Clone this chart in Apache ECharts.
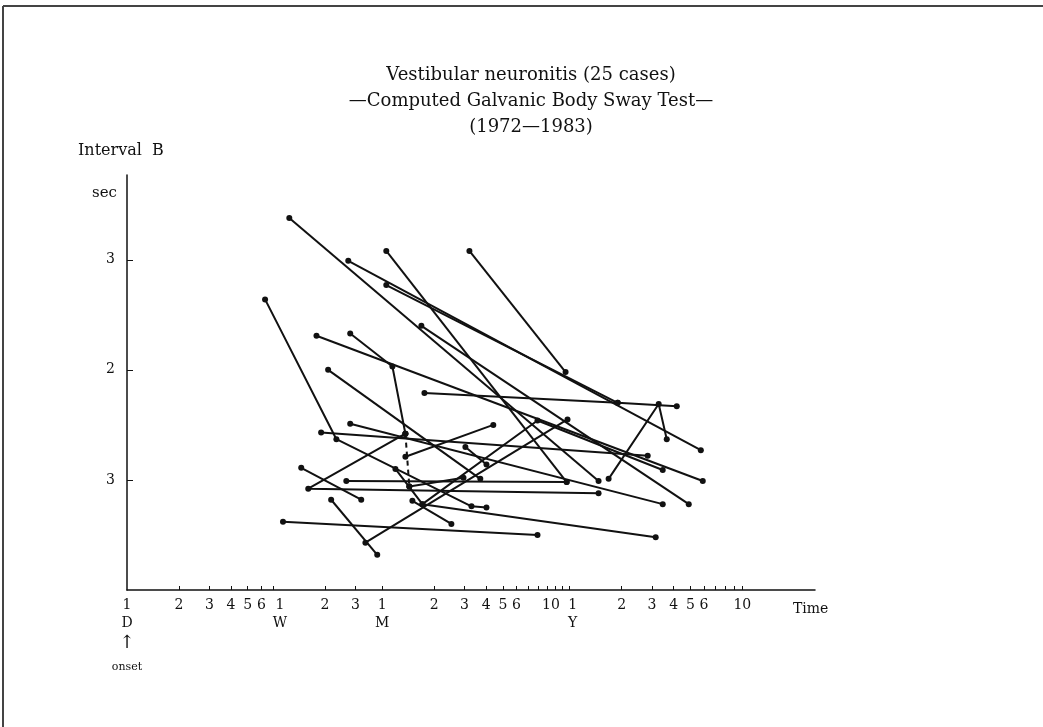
<!DOCTYPE html>
<html><head><meta charset="utf-8">
<script src="https://cdn.jsdelivr.net/npm/echarts@6/dist/echarts.min.js"></script>
<style>html,body{margin:0;padding:0;background:#fff}#c{width:1043px;height:727px}</style>
</head><body><div id="c"></div>
<script>
// ---- text ----
const titleLines = ['Vestibular neuronitis (25 cases)', '\u2014Computed Galvanic Body Sway Test\u2014', '(1972\u20141983)'];
const yName = 'Interval  B';
const yUnit = 'sec';
const xName = 'Time';

// ---- x ticks (days since onset, log scale) ----
const tickDays   = [1, 2, 3, 4, 5, 6, 7, 14, 21, 30, 60, 90, 120, 150, 180, 300, 365, 730, 1095, 1460, 1825, 2190, 3650];
const tickLabels = ['1|D', '2', '3', '4', '5', '6', '1|W', '2', '3', '1|M', '2', '3', '4', '5', '6', '10', '1|Y', '2', '3', '4', '5', '6', '10'];
const minorTickDays = [210, 240, 270, 330, 2555, 2920, 3285];

// ---- y ticks ----
const yTickValues = [1, 2, 3];
const yTickLabels = ['3', '2', '3'];

// ---- cases: [days, sec] ----
const case01 = [[8.7, 3.38], [537, 0.99]];
const case02 = [[31.7, 3.08], [351, 0.98]];
const case03 = [[96, 3.08], [346, 1.98]];
const case04 = [[19.1, 2.99], [2099, 1.27]];
const case05 = [[31.7, 2.77], [693, 1.70]];
const case06 = [[6.3, 2.64], [16.3, 1.37], [98.7, 0.76], [120.5, 0.75]];
const case07 = [[12.5, 2.31], [2154, 0.99]];
const case08 = [[19.6, 2.33], [34.4, 2.03], [40.9, 1.42]];
const case08b = [[43.1, 0.94], [88.7, 1.02]];
const case09 = [[50.6, 2.40], [1787, 0.78]];
const case10 = [[14.6, 2.00], [111, 1.01]];
const case11 = [[52.7, 1.79], [693, 1.70], [1523, 1.67]];
const case12 = [[19.6, 1.51], [1263, 0.78]];
const case13 = [[13.3, 1.43], [1034, 1.22]];
const case14 = [[40.9, 1.42], [11.2, 0.92], [537, 0.88]];
const case15 = [[40.9, 1.21], [132, 1.50]];
const case16 = [[91, 1.30], [120.5, 1.14]];
const case17 = [[35.8, 1.10], [51.3, 0.78], [1150, 0.48]];
const case18 = [[44.9, 0.81], [75.5, 0.60]];
const case19 = [[10.2, 1.11], [22.7, 0.82]];
const case20 = [[18.6, 0.99], [351, 0.98]];
const case21 = [[15.2, 0.82], [28.1, 0.32]];
const case22 = [[8.0, 0.62], [238, 0.50]];
const case23 = [[24.0, 0.43], [355, 1.55]];
const case24 = [[614, 1.01], [1197, 1.69], [1333, 1.37]];
const case25 = [[51.3, 0.78], [238, 1.54], [1263, 1.09]];
const dashed01 = [[40.9, 1.42], [43.1, 0.94]];

const solidCases = [case01, case02, case03, case04, case05, case06, case07, case08, case08b, case09, case10,
  case11, case12, case13, case14, case15, case16, case17, case18, case19, case20, case21, case22, case23, case24, case25];
const dashedCases = [dashed01];

const INK = '#111';
const serif = 'DejaVu Serif';

// small label nudges (rich style names) for crowded positions
const labelStyleFor = { 7: 'w', 300: 'l', 365: 'r' };

function labelFor(v) {
  for (let i = 0; i < tickDays.length; i++) {
    if (Math.abs(v - tickDays[i]) < 1e-6 * tickDays[i]) {
      const parts = tickLabels[i].split('|');
      if (i === 0) return '{n|' + parts[0] + '}\n{n|' + parts[1] + '}\n{arr|\u2191}\n{on|onset}';
      const st = labelStyleFor[tickDays[i]] || 'n';
      return parts.map(p => '{' + st + '|' + p + '}').join('\n');
    }
  }
  return '';
}

const lbl = { fontFamily: serif, fontSize: 14, color: INK, lineHeight: 18, align: 'center' };

const series = [];
solidCases.forEach(c => series.push({
  type: 'line', data: c, symbol: 'circle', symbolSize: 6, silent: true,
  lineStyle: { color: INK, width: 2 }, itemStyle: { color: INK }, animation: false
}));
dashedCases.forEach(c => series.push({
  type: 'line', data: c, symbol: 'circle', symbolSize: 6, silent: true,
  lineStyle: { color: INK, width: 2, type: [5, 4] }, itemStyle: { color: INK }, animation: false
}));

const chart = echarts.init(document.getElementById('c'), null, { renderer: 'canvas' });
chart.setOption({
  backgroundColor: '#fff',
  animation: false,
  title: {
    text: titleLines.join('\n'), left: 531, top: 62, textAlign: 'center', padding: 0,
    textStyle: { fontFamily: serif, fontSize: 18, fontWeight: 'normal', color: INK, lineHeight: 26 }
  },
  grid: { left: 127, top: 175, right: 228, bottom: 137 },
  xAxis: {
    type: 'log', logBase: 10, min: 1, max: 9616,
    name: xName, nameLocation: 'end', nameGap: -22,
    nameTextStyle: { fontFamily: serif, fontSize: 14, color: INK, verticalAlign: 'top', padding: [12, 0, 0, 0] },
    axisLine: { lineStyle: { color: INK, width: 1.5 } },
    axisTick: { inside: true, length: 4, customValues: tickDays.slice(1).concat(minorTickDays), lineStyle: { color: INK } },
    splitLine: { show: false }, minorTick: { show: false },
    axisLabel: {
      customValues: tickDays, margin: 6, formatter: labelFor,
      rich: {
        n: lbl,
        w: Object.assign({}, lbl, { padding: [0, 0, 0, 14] }),
        l: Object.assign({}, lbl, { padding: [0, 8, 0, 0] }),
        r: Object.assign({}, lbl, { padding: [0, 0, 0, 6] }),
        arr: { fontFamily: serif, fontSize: 18, color: INK, lineHeight: 22, align: 'center' },
        on: { fontFamily: serif, fontSize: 11, color: INK, lineHeight: 26, align: 'center' }
      }
    }
  },
  yAxis: {
    type: 'value', min: 0, max: 3.77,
    axisLine: { show: true, lineStyle: { color: INK, width: 1.5 } },
    axisTick: { show: true, inside: true, length: 6, customValues: yTickValues, lineStyle: { color: INK } },
    splitLine: { show: false },
    axisLabel: {
      customValues: yTickValues, margin: 12,
      formatter: v => { const i = yTickValues.indexOf(Math.round(v)); return i >= 0 ? yTickLabels[i] : ''; },
      fontFamily: serif, fontSize: 14, color: INK, padding: [4, 0, 0, 0]
    }
  },
  graphic: [
    { type: 'line', shape: { x1: 3, y1: 6, x2: 1043, y2: 6 }, style: { stroke: '#444', lineWidth: 2 } },
    { type: 'line', shape: { x1: 3, y1: 6, x2: 3, y2: 727 }, style: { stroke: '#444', lineWidth: 2 } },
    { type: 'text', left: 78, top: 143, style: { text: yName, fontFamily: serif, fontSize: 16, fill: INK } },
    { type: 'text', left: 92, top: 186, style: { text: yUnit, fontFamily: serif, fontSize: 15, fill: INK } }
  ],
  series: series
});
</script></body></html>
